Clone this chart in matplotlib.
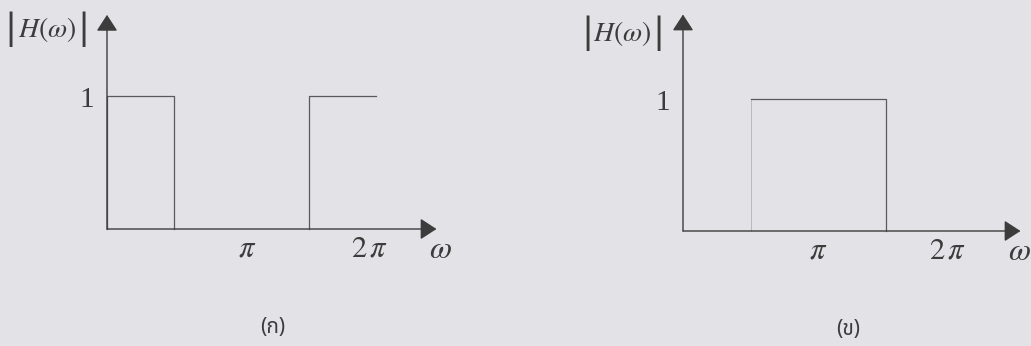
import matplotlib
matplotlib.use("Agg")
import matplotlib.pyplot as plt

# magnitude responses, frequency in units of pi
band_a1_w = [0.0, 0.0, 0.5, 0.5]
band_a1_h = [0.0, 1.0, 1.0, 0.0]
band_a2_w = [1.5, 1.5, 2.0]
band_a2_h = [0.0, 1.0, 1.0]
band_b_w = [0.5, 1.5, 1.5]
band_b_h = [1.0, 1.0, 0.0]
band_b_edge_w = [0.5, 0.5]
band_b_edge_h = [0.0, 1.0]

tick_vals = [1, 2]
tick_text = [r"$\pi$", r"$2\,\pi$"]
captions = ["(ก)", "(ข)"]

plt.rcParams["mathtext.fontset"] = "stix"
plt.rcParams["font.family"] = ["Liberation Serif", "DejaVu Serif"]

W, H = 1031, 346
bg = "#e3e3e7"
ink = "#3c3c3c"
line_c = "#5a5a5a"

fig = plt.figure(figsize=(W / 100, H / 100), dpi=100, facecolor=bg)


def make_ax(ox, oy, sx, sy, xlim=(-0.75, 2.6), ylim=(-0.9, 1.8)):
    rect = [(ox + xlim[0] * sx) / W, (H - oy + ylim[0] * sy) / H,
            (xlim[1] - xlim[0]) * sx / W, (ylim[1] - ylim[0]) * sy / H]
    ax = fig.add_axes(rect)
    ax.set_xlim(*xlim)
    ax.set_ylim(*ylim)
    ax.axis("off")
    return ax


def draw_axes(ax, xtip, ytip):
    head = "-|>,head_length=0.4,head_width=0.26"
    for tip in [(xtip, 0), (0, ytip)]:
        ax.annotate("", xy=tip, xytext=(0, 0),
                    arrowprops=dict(arrowstyle=head, mutation_scale=25,
                                    color=ink, lw=1.0, shrinkA=0, shrinkB=0))


def labels(ax, tick_x, omega_x, one_x, bars_x):
    for x, t in zip(tick_x, tick_text):
        ax.text(x, -0.15, t, ha="center", va="center", fontsize=22, color=ink)
    ax.text(omega_x, -0.16, r"$\omega$", ha="center", va="center",
            fontsize=23, color=ink)
    ax.text(one_x, 0.97, "1", ha="center", va="center", fontsize=21, color=ink)
    # |H(w)| with tall magnitude bars
    left, right = bars_x
    ax.text((left + right) / 2, 1.5, r"$H(\omega)$", ha="center", va="center",
            fontsize=20, color=ink)
    for x in bars_x:
        ax.text(x, 1.5, "|", ha="center", va="center", fontsize=26,
                color=ink, family="DejaVu Serif", fontweight="light")


# (a) low-pass + high-pass
ax1 = make_ax(107, 229, 134.5, 133)
draw_axes(ax1, 2.45, 1.61)
ax1.plot(band_a1_w, band_a1_h, color=line_c, lw=0.9)
ax1.plot(band_a2_w, band_a2_h, color=line_c, lw=0.9)
labels(ax1, [tick_vals[0] + 0.04, tick_vals[1] - 0.05], 2.48, -0.15,
       (-0.715, -0.175))
ax1.text(1.23, -0.74, captions[0], ha="center", va="center", fontsize=15,
         color=ink, family=["Noto Sans Thai", "DejaVu Sans"])

# (b) band-pass
ax2 = make_ax(683, 231, 135, 132)
draw_axes(ax2, 2.5, 1.64)
ax2.plot(band_b_w, band_b_h, color=line_c, lw=0.9)
ax2.plot(band_b_edge_w, band_b_edge_h, color=line_c, lw=0.6, alpha=0.35)
labels(ax2, [tick_vals[0], tick_vals[1] - 0.04], 2.49, -0.15,
       (-0.71, -0.185))
ax2.text(1.22, -0.75, captions[1], ha="center", va="center", fontsize=15,
         color=ink, family=["Noto Sans Thai", "DejaVu Sans"])

fig.savefig("out.png", dpi=100, facecolor=bg)
